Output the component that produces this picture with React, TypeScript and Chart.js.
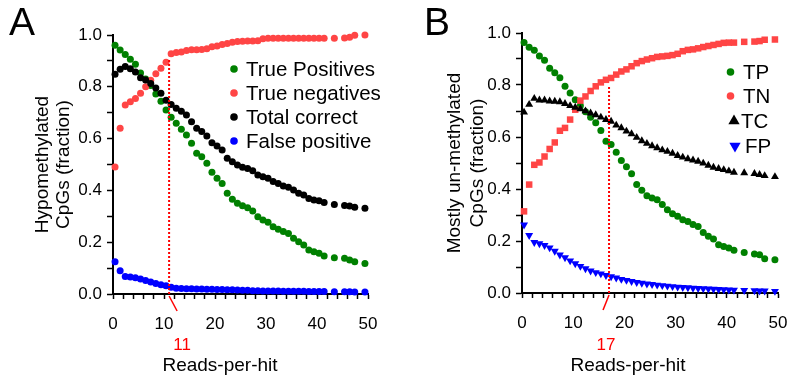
import React, { useEffect, useRef } from "react";
import { Chart, registerables } from "chart.js";

Chart.register(...registerables);

const FONT = "'Liberation Sans', Arial, Helvetica, sans-serif";
const GREEN = "#008000";
const RED = "#FF4545";
const BLACK = "#000000";
const BLUE = "#0000FF";
const CUT_RED = "#FF0000";

// x positions of the plotted points (reads-per-hit), as placed in the figure
const readsPerHit = [
  0.4, 1.4, 2.4, 3.4, 4.4, 5.4, 6.4, 7.4, 8.4, 9.4,
  10.4, 11.4, 12.4, 13.4, 14.4, 15.4, 16.4, 17.4, 18.4, 19.4,
  20.4, 21.4, 22.4, 23.4, 24.4, 25.4, 26.4, 27.4, 28.4, 29.4,
  30.4, 31.4, 32.4, 33.4, 34.4, 35.4, 36.4, 37.4, 38.4, 39.4,
  40.4, 41.4, 42.4, 43.4, 44.4, 45.4, 46.4, 47.4, 48.4, 49.4,
];

// Panel A: hypomethylated CpGs
const hypoTruePositives = [
  0.960, 0.942, 0.925, 0.906, 0.887, 0.853, 0.830, 0.805, 0.772, 0.744,
  0.710, 0.682, 0.659, 0.636, 0.614, 0.582, 0.543, 0.530, 0.505, 0.470,
  0.447, 0.427, 0.389, 0.366, 0.350, 0.341, 0.333, 0.320, 0.298, 0.286,
  0.277, 0.260, 0.250, 0.241, 0.234, 0.215, 0.202, 0.189, 0.170, 0.163,
  0.157, 0.147, null, 0.140, null, 0.138, 0.131, 0.125, null, 0.118,
];
const hypoTrueNegatives = [
  0.490, 0.640, 0.730, 0.742, 0.755, 0.775, 0.800, 0.825, 0.850, 0.872,
  0.895, 0.928, 0.932, 0.934, 0.940, 0.943, 0.943, 0.944, 0.947, 0.955,
  0.958, 0.963, 0.967, 0.972, 0.975, 0.976, 0.977, 0.977, 0.978, 0.986,
  0.987, 0.987, 0.987, 0.987, 0.987, 0.987, 0.987, 0.987, 0.987, 0.987,
  0.987, 0.987, null, 0.987, null, 0.988, 0.991, 0.999, null, 1.0,
];
const hypoTotalCorrect = [
  0.848, 0.868, 0.878, 0.870, 0.857, 0.835, 0.826, 0.813, 0.795, 0.775,
  0.748, 0.732, 0.717, 0.706, 0.691, 0.665, 0.640, 0.627, 0.610, 0.584,
  0.571, 0.556, 0.524, 0.511, 0.498, 0.489, 0.485, 0.476, 0.459, 0.453,
  0.447, 0.434, 0.427, 0.417, 0.412, 0.402, 0.389, 0.382, 0.369, 0.363,
  0.360, 0.353, null, 0.346, null, 0.342, 0.340, 0.335, null, 0.331,
];
const hypoFalsePositive = [
  0.125, 0.090, 0.068, 0.066, 0.063, 0.058, 0.052, 0.046, 0.041, 0.036,
  0.032, 0.026, 0.022, 0.021, 0.020, 0.020, 0.019, 0.019, 0.018, 0.018,
  0.017, 0.017, 0.016, 0.016, 0.015, 0.014, 0.014, 0.013, 0.013, 0.012,
  0.012, 0.012, 0.012, 0.011, 0.011, 0.011, 0.011, 0.011, 0.010, 0.010,
  0.010, 0.010, null, 0.009, null, 0.009, 0.009, 0.008, null, 0.008,
];
const hypoCut = 11;
const hypoCutTop = 0.905;

// Panel B: mostly un-methylated CpGs
const unmethTP = [
  0.963, 0.945, 0.934, 0.912, 0.895, 0.864, 0.847, 0.828, 0.795, 0.769,
  0.743, 0.720, 0.697, 0.676, 0.655, 0.625, 0.584, 0.571, 0.541, 0.510,
  0.486, 0.459, 0.417, 0.395, 0.374, 0.365, 0.359, 0.340, 0.320, 0.305,
  0.295, 0.282, 0.275, 0.263, 0.256, 0.233, 0.218, 0.208, 0.186, 0.179,
  0.173, 0.164, null, 0.156, null, 0.150, 0.147, 0.132, null, 0.128,
];
const unmethTN = [
  0.314, 0.417, 0.493, 0.502, 0.525, 0.554, 0.579, 0.624, 0.635, 0.667,
  0.705, 0.740, 0.756, 0.777, 0.795, 0.810, 0.820, 0.827, 0.840, 0.852,
  0.860, 0.872, 0.884, 0.892, 0.898, 0.903, 0.908, 0.910, 0.912, 0.915,
  0.920, 0.930, 0.935, 0.937, 0.941, 0.946, 0.950, 0.954, 0.958, 0.962,
  0.963, 0.963, null, 0.966, null, 0.967, 0.969, 0.974, null, 0.975,
];
const unmethTC = [
  0.695, 0.725, 0.748, 0.742, 0.742, 0.738, 0.737, 0.735, 0.728, 0.720,
  0.714, 0.708, 0.700, 0.692, 0.685, 0.676, 0.667, 0.660, 0.645, 0.635,
  0.622, 0.612, 0.598, 0.585, 0.575, 0.566, 0.558, 0.550, 0.544, 0.537,
  0.528, 0.522, 0.516, 0.511, 0.506, 0.499, 0.491, 0.483, 0.478, 0.474,
  0.469, 0.464, null, 0.462, null, 0.459, 0.455, 0.451, null, 0.447,
];
const unmethFP = [
  0.262, 0.222, 0.195, 0.190, 0.183, 0.174, 0.161, 0.147, 0.136, 0.124,
  0.113, 0.103, 0.094, 0.085, 0.079, 0.074, 0.068, 0.063, 0.058, 0.053,
  0.049, 0.045, 0.041, 0.038, 0.035, 0.033, 0.031, 0.029, 0.027, 0.025,
  0.023, 0.022, 0.021, 0.019, 0.018, 0.017, 0.016, 0.015, 0.014, 0.013,
  0.012, 0.011, null, 0.010, null, 0.009, 0.008, 0.008, null, 0.007,
];
const unmethCut = 17;
const unmethCutTop = 0.80;

const xTickLabels = ["0", "10", "20", "30", "40", "50"];
const yTickLabels = ["0.0", "0.2", "0.4", "0.6", "0.8", "1.0"];

type Series = {
  label: string;
  values: (number | null)[];
  color: string;
  style: string;
  radius: number;
  rotation?: number;
  order: number;
  legendStyle: string;
  legendRadius: number;
  legendX: number;
  legendY: number;
  legendTextX: number;
};

type PanelSpec = {
  canvasLeft: number;
  canvasWidth: number;
  yAxisWidth: number;
  xAxisHeight: number;
  padTop: number;
  padRight: number;
  letter: string;
  letterX: number;
  yTitle: string[];
  yTitleX: number[];
  xTitle: string;
  xTitleX: number;
  cut: number;
  cutTop: number;
  cutLabelDx: number;
  cutSlashDx: number;
  series: Series[];
};

const panelA: PanelSpec = {
  canvasLeft: 0,
  canvasWidth: 395,
  yAxisWidth: 113,
  xAxisHeight: 87,
  padTop: 35,
  padRight: 27,
  letter: "A",
  letterX: 9,
  yTitle: ["Hypomethylated", "CpGs (fraction)"],
  yTitleX: [43, 64],
  xTitle: "Reads-per-hit",
  xTitleX: 220,
  cut: hypoCut,
  cutTop: hypoCutTop,
  cutLabelDx: 13,
  cutSlashDx: 8,
  series: [
    { label: "True Positives", values: hypoTruePositives, color: GREEN, style: "circle", radius: 3.5, order: 4, legendStyle: "circle", legendRadius: 3.8, legendX: 234, legendY: 69, legendTextX: 246 },
    { label: "True negatives", values: hypoTrueNegatives, color: RED, style: "circle", radius: 3.5, order: 3, legendStyle: "circle", legendRadius: 3.8, legendX: 234, legendY: 93, legendTextX: 246 },
    { label: "Total correct", values: hypoTotalCorrect, color: BLACK, style: "circle", radius: 3.5, order: 2, legendStyle: "circle", legendRadius: 3.8, legendX: 234, legendY: 117, legendTextX: 246 },
    { label: "False positive", values: hypoFalsePositive, color: BLUE, style: "circle", radius: 3.5, order: 1, legendStyle: "circle", legendRadius: 3.8, legendX: 234, legendY: 141, legendTextX: 246 },
  ],
};

const panelB: PanelSpec = {
  canvasLeft: 395,
  canvasWidth: 392,
  yAxisWidth: 127,
  xAxisHeight: 88,
  padTop: 33,
  padRight: 9,
  letter: "B",
  letterX: 29,
  yTitle: ["Mostly un-methylated", "CpGs (fraction)"],
  yTitleX: [60, 83],
  xTitle: "Reads-per-hit",
  xTitleX: 233,
  cut: unmethCut,
  cutTop: unmethCutTop,
  cutLabelDx: -3,
  cutSlashDx: -6,
  series: [
    { label: "TP", values: unmethTP, color: GREEN, style: "circle", radius: 3.5, order: 4, legendStyle: "circle", legendRadius: 3.8, legendX: 335.5, legendY: 72, legendTextX: 348 },
    { label: "TN", values: unmethTN, color: RED, style: "rect", radius: 4.6, order: 3, legendStyle: "circle", legendRadius: 3.8, legendX: 335.5, legendY: 96, legendTextX: 348 },
    { label: "TC", values: unmethTC, color: BLACK, style: "triangle", radius: 4.6, order: 2, legendStyle: "triangle", legendRadius: 6.5, legendX: 339, legendY: 121, legendTextX: 346 },
    { label: "FP", values: unmethFP, color: BLUE, style: "triangle", radius: 4.6, rotation: 180, order: 1, legendStyle: "triangleDown", legendRadius: 6.5, legendX: 340, legendY: 146, legendTextX: 350 },
  ],
};

function drawMarker(ctx: CanvasRenderingContext2D, style: string, x: number, y: number, r: number, color: string) {
  ctx.fillStyle = color;
  ctx.beginPath();
  if (style === "circle") {
    ctx.arc(x, y, r, 0, Math.PI * 2);
  } else if (style === "triangle" || style === "triangleDown") {
    const base = style === "triangle" ? 0 : Math.PI;
    for (let i = 0; i < 3; i++) {
      const a = (i * 2 * Math.PI) / 3 + base;
      const px = x + Math.sin(a) * r;
      const py = y - Math.cos(a) * r;
      if (i === 0) ctx.moveTo(px, py);
      else ctx.lineTo(px, py);
    }
    ctx.closePath();
  }
  ctx.fill();
}

function makeTextPlugin(p: PanelSpec) {
  return {
    id: "panelText" + p.letter,
    afterDraw(chart: any) {
      const ctx: CanvasRenderingContext2D = chart.ctx;
      const xs = chart.scales.x;
      const ys = chart.scales.y;
      ctx.save();
      // panel letter
      ctx.fillStyle = "#000";
      ctx.font = `39px ${FONT}`;
      ctx.textAlign = "left";
      ctx.textBaseline = "alphabetic";
      ctx.fillText(p.letter, p.letterX, 35);

      // legend
      ctx.font = `20.5px ${FONT}`;
      ctx.textBaseline = "middle";
      for (const s of p.series) {
        drawMarker(ctx, s.legendStyle, s.legendX, s.legendY, s.legendRadius, s.color);
        ctx.fillStyle = "#000";
        ctx.fillText(s.label, s.legendTextX, s.legendY + 1);
      }

      // x title
      ctx.font = `19px ${FONT}`;
      ctx.textAlign = "center";
      ctx.fillText(p.xTitle, p.xTitleX, 366);

      // y title (rotated)
      const yMid = (ys.top + ys.bottom) / 2;
      p.yTitle.forEach((t, i) => {
        ctx.save();
        ctx.translate(p.yTitleX[i], yMid);
        ctx.rotate(-Math.PI / 2);
        ctx.fillText(t, 0, 0);
        ctx.restore();
      });

      // cut-off label below the axis
      const cx = xs.getPixelForValue(p.cut);
      const axisY = ys.getPixelForValue(0);
      ctx.strokeStyle = CUT_RED;
      ctx.lineWidth = 1.5;
      ctx.beginPath();
      ctx.moveTo(cx, axisY + 2);
      ctx.lineTo(cx + p.cutSlashDx, axisY + 17);
      ctx.stroke();
      ctx.fillStyle = CUT_RED;
      ctx.font = `17px ${FONT}`;
      ctx.fillText(String(p.cut), cx + p.cutLabelDx, 345);
      ctx.restore();
    },
  };
}

function buildConfig(p: PanelSpec): any {
  const datasets: any[] = [
    {
      type: "line",
      label: "cut",
      data: [
        { x: p.cut, y: 0 },
        { x: p.cut, y: p.cutTop },
      ],
      borderColor: CUT_RED,
      borderWidth: 2,
      borderDash: [2, 2],
      pointRadius: 0,
      showLine: true,
      fill: false,
      order: 0,
      clip: false,
    },
  ];
  for (const s of p.series) {
    datasets.push({
      type: "scatter",
      label: s.label,
      data: readsPerHit.map((x, k) => ({ x, y: s.values[k] })).filter((d) => d.y !== null),
      pointStyle: s.style,
      pointRadius: s.radius,
      pointRotation: s.rotation || 0,
      backgroundColor: s.color,
      borderColor: s.color,
      pointBackgroundColor: s.color,
      pointBorderWidth: 0,
      order: s.order,
      clip: false,
    });
  }
  return {
    type: "scatter",
    data: { datasets },
    plugins: [makeTextPlugin(p)],
    options: {
      responsive: false,
      animation: false,
      devicePixelRatio: 1,
      events: [],
      layout: { padding: { left: 0, top: p.padTop, right: p.padRight, bottom: 0 } },
      plugins: {
        legend: { display: false },
        tooltip: { enabled: false },
        title: { display: false },
      },
      scales: {
        x: {
          type: "linear",
          min: 0,
          max: 50,
          ticks: {
            stepSize: 2,
            autoSkip: false,
            maxRotation: 0,
            color: "#000",
            padding: 15,
            font: { family: FONT, size: 17 },
            callback: (v: number) => {
              const lbl = String(Math.round(v));
              return xTickLabels.includes(lbl) ? lbl : "";
            },
          },
          grid: { drawOnChartArea: false, drawTicks: true, tickLength: 5, tickColor: "#000", tickWidth: 1.5 },
          border: { display: true, color: "#000", width: 2 },
          afterFit: (s: any) => {
            s.height = p.xAxisHeight;
            s.paddingLeft = 0;
            s.paddingRight = 0;
          },
        },
        y: {
          type: "linear",
          min: 0,
          max: 1,
          ticks: {
            stepSize: 0.1,
            autoSkip: false,
            color: "#000",
            padding: 5,
            font: { family: FONT, size: 17 },
            callback: (v: number) => {
              const lbl = (Math.round(v * 10) / 10).toFixed(1);
              return yTickLabels.includes(lbl) ? lbl : "";
            },
          },
          grid: { drawOnChartArea: false, drawTicks: true, tickLength: 6, tickColor: "#000", tickWidth: 1.5 },
          border: { display: true, color: "#000", width: 2 },
          afterFit: (s: any) => {
            s.width = p.yAxisWidth;
            s.paddingTop = 0;
            s.paddingBottom = 0;
          },
        },
      },
    },
  };
}

function Panel({ spec }: { spec: PanelSpec }) {
  const ref = useRef<HTMLCanvasElement>(null);
  useEffect(() => {
    if (!ref.current) return;
    const chart = new Chart(ref.current, buildConfig(spec));
    return () => chart.destroy();
  }, [spec]);
  return (
    <canvas
      ref={ref}
      width={spec.canvasWidth}
      height={381}
      style={{ position: "absolute", left: spec.canvasLeft, top: 0, width: spec.canvasWidth, height: 381 }}
    />
  );
}

export default function App() {
  return (
    <div style={{ position: "fixed", left: 0, top: 0, width: 787, height: 381, background: "#fff", overflow: "hidden" }}>
      <Panel spec={panelA} />
      <Panel spec={panelB} />
    </div>
  );
}
